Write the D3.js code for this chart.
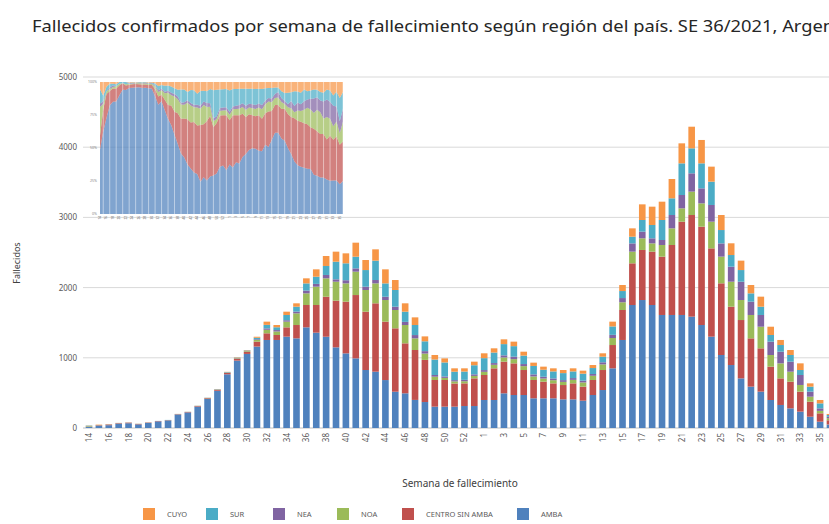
<!DOCTYPE html>
<html>
<head>
<meta charset="utf-8">
<script src="https://cdn.jsdelivr.net/npm/d3@7"></script>
<style>
  body { margin: 0; background: #fff; }
  svg { font-family: "Noto Sans", "Open Sans", sans-serif; display: block; }
</style>
</head>
<body>
<div id="chart"></div>
<script>
// semanas epidemiologicas: 2020 SE14-53, 2021 SE1-36
var weeks2020 = [14,15,16,17,18,19,20,21,22,23,24,25,26,27,28,29,30,31,32,33,34,35,36,37,38,39,40,41,42,43,44,45,46,47,48,49,50,51,52,53];
var weeks2021 = [1,2,3,4,5,6,7,8,9,10,11,12,13,14,15,16,17,18,19,20,21,22,23,24,25,26,27,28,29,30,31,32,33,34,35,36];

var amba = [18,30,40,60,68,52,72,95,108,192, 222,305,415,530,765,960,1055,1160,1254,1254,
  1301,1277,1434,1358,1300,1149,1063,992,826,802, 683,517,494,400,370,304,304,304,313,313,
  399,399,494,470,470,423,423,423,408,408, 389,470,541,850,1254,1752,1823,1752,1610,1610,
  1610,1586,1467,1301,1040,897,707,589,518,399, 328,280,233,161,90,50];
var centro = [4,8,10,8,8,6,6,5,4,5, 6,8,10,15,20,25,30,70,95,71,
  133,190,318,394,570,665,737,902,831,974, 832,903,712,711,600,380,380,330,323,394,
  356,451,451,451,356,261,237,213,204,228, 200,214,285,332,427,594,713,760,831,997,
  1329,1448,1401,1258,1021,831,831,688,617,475, 379,380,285,214,119,60];
var noa = [8,2,1,1,1,1,1,0,1,1, 1,2,3,4,6,8,10,25,50,50,
  81,166,166,261,262,270,260,333,309,284, 308,261,261,166,90,47,30,30,30,35,
  45,50,60,60,55,50,45,45,45,50, 60,60,80,100,110,166,166,118,166,237,
  190,333,332,380,380,356,285,333,308,166, 214,142,95,71,35,30];
var nea = [1,1,0,1,1,0,0,0,0,1, 1,1,1,2,3,4,5,10,20,20,
  20,25,40,40,48,34,45,47,47,48, 47,47,45,47,35,24,20,18,20,22,
  25,25,30,35,30,30,25,25,25,25, 25,25,30,45,60,118,95,72,71,190,
  190,261,214,238,189,214,261,190,167,190, 166,143,142,72,36,20];
var sur = [4,2,2,2,1,1,1,1,2,1, 1,1,2,3,4,5,6,20,50,40,
  75,70,102,102,128,251,241,166,237,276, 190,238,145,143,140,220,200,120,118,130,
  170,150,160,150,120,120,100,100,100,95, 100,85,80,120,100,95,166,190,285,238,
  451,356,356,332,190,166,166,118,118,95, 95,95,71,71,71,25];
var cuyo = [2,5,2,1,1,1,0,0,0,1, 1,1,1,1,2,5,5,15,46,32,
  47,48,72,105,142,143,142,200,143,161, 200,142,119,109,70,65,58,48,46,51,
  69,60,68,64,56,47,44,44,44,44, 43,43,48,68,86,119,223,261,261,275,
  285,308,333,214,214,167,134,119,143,118, 72,71,95,47,48,15];

var regions = ['AMBA', 'CENTRO SIN AMBA', 'NOA', 'NEA', 'SUR', 'CUYO'];
var colors = ['#4f81bd', '#c0504d', '#9bbb59', '#8064a2', '#4bacc6', '#f79646'];
var legendOrder = ['CUYO', 'SUR', 'NEA', 'NOA', 'CENTRO SIN AMBA', 'AMBA'];
var yTicks = [0, 1000, 2000, 3000, 4000, 5000];

var width = 829, height = 524;

var rows = [];
weeks2020.forEach(function(w) { rows.push({key: '2020-' + w, week: w}); });
weeks2021.forEach(function(w) { rows.push({key: '2021-' + w, week: w}); });
var seriesValues = [amba, centro, noa, nea, sur, cuyo];
rows.forEach(function(r, i) {
  regions.forEach(function(name, j) { r[name] = seriesValues[j][i]; });
});

var color = d3.scaleOrdinal().domain(regions).range(colors);

var svg = d3.select('#chart').append('svg')
    .attr('width', width)
    .attr('height', height);

svg.append('text')
    .attr('x', 32).attr('y', 32)
    .attr('font-size', 15.5)
    .attr('fill', '#262626')
    .attr('textLength', 840)
    .attr('lengthAdjust', 'spacingAndGlyphs')
    .text('Fallecidos confirmados por semana de fallecimiento según región del país. SE 36/2021, Argentina.');

var x = d3.scaleBand()
    .domain(rows.map(function(d) { return d.key; }))
    .range([82.4, 836.6])
    .paddingInner(0.33)
    .paddingOuter(0.335);

var y = d3.scaleLinear().domain([0, 5000]).range([428, 77]);

// grid
svg.append('g').selectAll('line')
    .data(yTicks)
    .join('line')
    .attr('x1', 83).attr('x2', width)
    .attr('y1', function(d) { return y(d); })
    .attr('y2', function(d) { return y(d); })
    .attr('stroke', function(d) { return d === 0 ? '#bfbfbf' : '#d9d9d9'; })
    .attr('stroke-width', 1);

svg.append('g').selectAll('text')
    .data(yTicks)
    .join('text')
    .attr('x', 77)
    .attr('y', function(d) { return y(d) + 3; })
    .attr('text-anchor', 'end')
    .attr('font-size', 8)
    .attr('fill', '#595959')
    .text(function(d) { return d; });

var stack = d3.stack().keys(regions);
var layers = stack(rows);

svg.append('g').selectAll('g')
    .data(layers)
    .join('g')
    .attr('fill', function(d) { return color(d.key); })
    .selectAll('rect')
    .data(function(d) { return d; })
    .join('rect')
    .attr('x', function(d) { return x(d.data.key); })
    .attr('width', x.bandwidth())
    .attr('y', function(d) { return y(d[1]); })
    .attr('height', function(d) { return y(d[0]) - y(d[1]); });

// x labels every other week
svg.append('g').selectAll('text')
    .data(rows.filter(function(d, i) { return i % 2 === 0; }))
    .join('text')
    .attr('transform', function(d) {
      return 'translate(' + (x(d.key) + x.bandwidth() / 2 + 3) + ',433) rotate(-90)';
    })
    .attr('text-anchor', 'end')
    .attr('font-size', 8)
    .attr('fill', '#595959')
    .text(function(d) { return d.week; });

svg.append('text')
    .attr('transform', 'translate(20,263) rotate(-90)')
    .attr('text-anchor', 'middle')
    .attr('font-size', 9)
    .attr('fill', '#404040')
    .text('Fallecidos');

svg.append('text')
    .attr('x', 460).attr('y', 487)
    .attr('text-anchor', 'middle')
    .attr('font-size', 10)
    .attr('fill', '#404040')
    .text('Semana de fallecimiento');

// legend
var legendX = {'CUYO': 143, 'SUR': 206, 'NEA': 273, 'NOA': 337, 'CENTRO SIN AMBA': 402, 'AMBA': 517};
var legend = svg.append('g').selectAll('g')
    .data(legendOrder)
    .join('g')
    .attr('transform', function(d) { return 'translate(' + legendX[d] + ',508)'; });
legend.append('rect')
    .attr('width', 12).attr('height', 12)
    .attr('fill', function(d) { return color(d); });
legend.append('text')
    .attr('x', 24).attr('y', 9)
    .attr('font-size', 7.5)
    .attr('fill', '#595959')
    .text(function(d) { return d; });

// inset: proportion by region (100% stacked area)
var ix = d3.scalePoint()
    .domain(rows.map(function(d) { return d.key; }))
    .range([100, 343]);
var iy = d3.scaleLinear().domain([0, 1]).range([214, 82]);

var inset = svg.append('g');
var expanded = d3.stack().keys(regions).offset(d3.stackOffsetExpand)(rows);
var area = d3.area()
    .x(function(d) { return ix(d.data.key); })
    .y0(function(d) { return iy(d[0]); })
    .y1(function(d) { return iy(d[1]); });

inset.selectAll('path')
    .data(expanded)
    .join('path')
    .attr('d', area)
    .attr('fill', function(d) { return color(d.key); })
    .attr('fill-opacity', 0.72);

inset.append('g').selectAll('line')
    .data(rows.filter(function(d, i) { return i % 2 === 1; }))
    .join('line')
    .attr('x1', function(d) { return ix(d.key); })
    .attr('x2', function(d) { return ix(d.key); })
    .attr('y1', 82).attr('y2', 214)
    .attr('stroke', '#fff')
    .attr('stroke-opacity', 0.6)
    .attr('stroke-width', 0.8);

inset.append('g').selectAll('text')
    .data([0, 0.25, 0.5, 0.75, 1])
    .join('text')
    .attr('x', 97)
    .attr('y', function(d) { return iy(d) + 1.2; })
    .attr('text-anchor', 'end')
    .attr('font-size', 3.5)
    .attr('fill', '#7f7f7f')
    .text(function(d) { return Math.round(d * 100) + '%'; });

inset.append('g').selectAll('text')
    .data(rows.filter(function(d, i) { return i % 2 === 0; }))
    .join('text')
    .attr('transform', function(d) { return 'translate(' + (ix(d.key) + 1) + ',216) rotate(-90)'; })
    .attr('text-anchor', 'end')
    .attr('font-size', 3)
    .attr('fill', '#595959')
    .text(function(d) { return d.week; });
</script>
</body>
</html>
